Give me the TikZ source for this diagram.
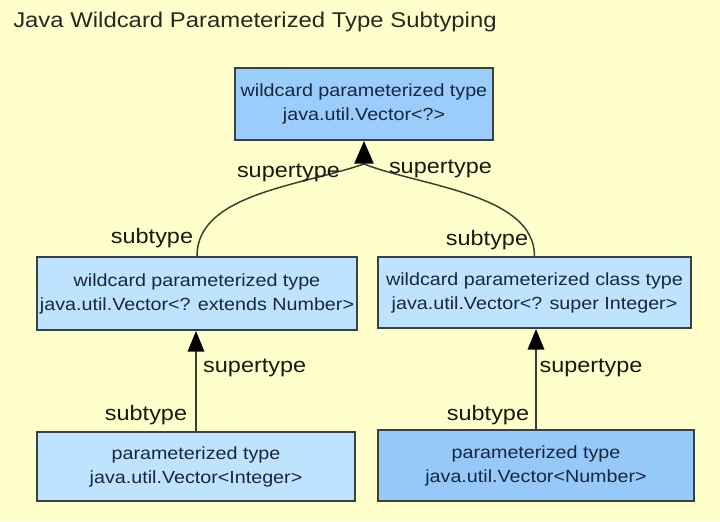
\documentclass[tikz,border=0pt]{standalone}
\usepackage{fontspec}
\setmainfont{Liberation Sans}[FakeStretch=1.12]
\usepackage{tikz}
\usetikzlibrary{arrows.meta}

\begin{document}
\begin{tikzpicture}[x=0.75pt,y=0.75pt,yscale=-1,xscale=1,
  typebox/.style={draw={rgb, 255:red, 58; green, 64; blue, 70 },line width=1.5pt,align=center,inner sep=0pt,
    text={rgb, 255:red, 25; green, 38; blue, 62 },font=\fontsize{13.2}{18}\selectfont},
  rolelabel/.style={anchor=base,inner sep=0pt,text={rgb, 255:red, 25; green, 25; blue, 20 },font=\fontsize{15.7}{18}\selectfont},
  subarrow/.style={draw={rgb, 255:red, 60; green, 60; blue, 50 },line width=1.1pt},
  subtip/.style={subarrow,-{Triangle[length=15.5pt,width=12.5pt,color=black,fill=black]}}]
\useasboundingbox (0,0) rectangle (720,521);
\fill [fill={rgb, 255:red, 255; green, 255; blue, 204 }] (0,0) rectangle (720,521);
\draw (13,27) node [anchor=base west] [inner sep=0pt] [text={rgb, 255:red, 40; green, 40; blue, 35 }] [font=\fontsize{16}{18}\selectfont] (title) {Java Wildcard Parameterized Type Subtyping};

% type boxes
\node [typebox] [fill={rgb, 255:red, 155; green, 205; blue, 250 }] [minimum width=193.5pt,minimum height=54pt] (wild) at (364,104) {wildcard parameterized type\\java.util.Vector<?>};
\node [typebox] [fill={rgb, 255:red, 190; green, 227; blue, 255 }] [minimum width=240pt,minimum height=54.75pt] (extnum) at (197,293.5) {wildcard parameterized type\\java.util.Vector<? extends Number>};
\node [typebox] [fill={rgb, 255:red, 190; green, 227; blue, 255 }] [minimum width=235pt,minimum height=53.25pt] (supint) at (534.5,292.5) {wildcard parameterized class type\\java.util.Vector<? super Integer>};
\node [typebox] [fill={rgb, 255:red, 190; green, 227; blue, 255 }] [minimum width=238.5pt,minimum height=51.75pt] (vecint) at (196,466.5) {parameterized type\\java.util.Vector<Integer>};
\node [typebox] [fill={rgb, 255:red, 150; green, 200; blue, 248 }] [minimum width=237pt,minimum height=53.25pt] (vecnum) at (536,465.5) {parameterized type\\java.util.Vector<Number>};

% connectors
\coordinate (joint) at (364,164);
\draw [subarrow] (extnum.north) .. controls +(0,-62) and +(-64,22) .. (joint);
\draw [subarrow] (supint.north) .. controls +(0,-62) and +(56,22) .. (joint);
\draw [subarrow,-{Triangle[length=17pt,width=14.5pt,color=black,fill=black]}] (joint) -- (wild.south);
\draw [subtip] (vecint.north) -- (vecint.north |- extnum.south);
\draw [subtip] (vecnum.north) -- (vecnum.north |- supint.south);

% labels
\node [rolelabel] (supTL) at (288.5,177) {supertype};
\node [rolelabel] (supTR) at (440.5,173) {supertype};
\node [rolelabel] (subTL) at (152,243) {subtype};
\node [rolelabel] (subTR) at (487,245) {subtype};
\node [rolelabel] (supBL) at (254.7,372) {supertype};
\node [rolelabel] (subBL) at (146,420) {subtype};
\node [rolelabel] (supBR) at (591,372) {supertype};
\node [rolelabel] (subBR) at (488,420) {subtype};
\end{tikzpicture}
\end{document}
